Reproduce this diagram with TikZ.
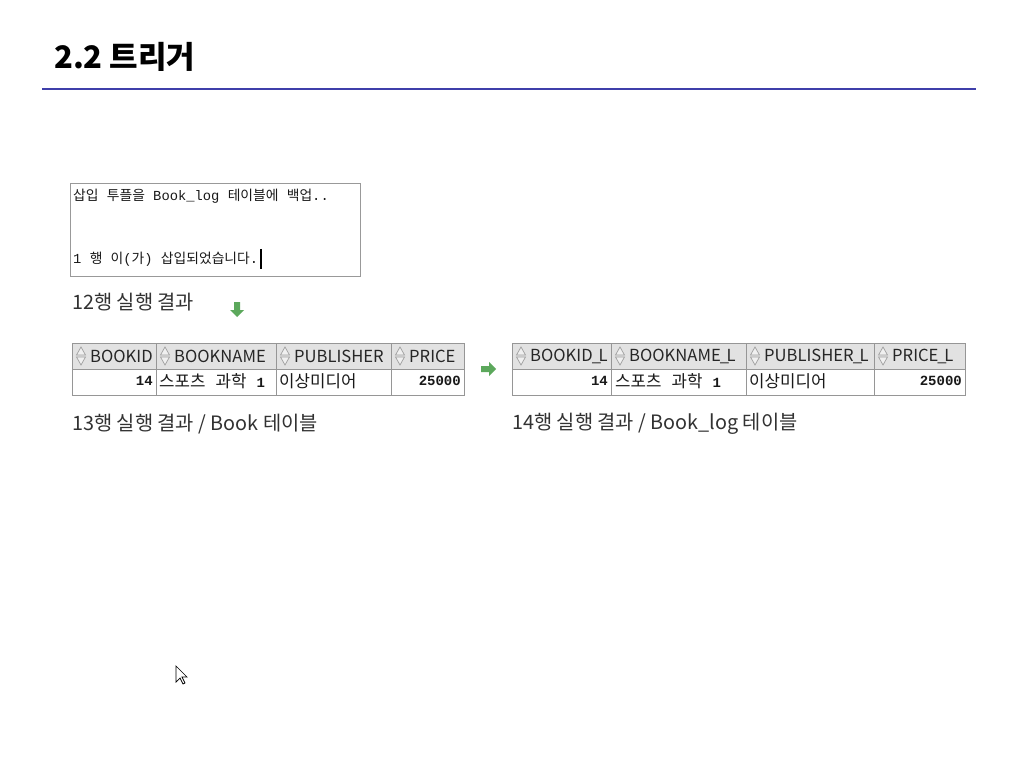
\documentclass[tikz,border=0pt]{standalone}
\usepackage{fontspec}
\setmainfont{Noto Sans CJK KR}
\newfontfamily\monofont{Liberation Mono}
\usetikzlibrary{positioning}
\definecolor{titleblue}{RGB}{63,63,170}
\definecolor{arrowgreen}{RGB}{92,168,92}
\definecolor{headgray}{RGB}{226,226,226}
\definecolor{gridgray}{RGB}{150,150,150}
\definecolor{textgray}{RGB}{50,50,50}
\newcommand{\mn}[1]{{\monofont #1}}
\newcommand{\fsz}[1]{\fontsize{#1}{#1}\selectfont}
\tikzset{
	caption/.style={anchor=west, inner sep=0pt, text=textgray, font=\fsz{19.8}},
	headtext/.style={anchor=west, inner sep=0pt, text=black!85, font=\fsz{16.6}},
	celltext/.style={anchor=west, inner sep=0pt, text=black!90, font=\fsz{16.8}},
	numtext/.style={anchor=east, inner sep=0pt, text=black!90, font=\monofont\bfseries\fsz{14}},
	constext/.style={anchor=west, inner sep=0pt, text=black!90, font=\fsz{13.8}},
	tabline/.style={draw=gridgray, line width=0.8pt},
	sorticon/.pic={
		\filldraw[draw=gray!75, fill=gray!12, line width=0.7pt] (-4.5,-1) -- (4.5,-1) -- (0,-9) -- cycle;
		\filldraw[draw=gray!75, fill=gray!12, line width=0.7pt] (-4.5,1) -- (4.5,1) -- (0,9) -- cycle;
	},
	greenarrow/.pic={
		\fill[arrowgreen] (0,-3) -- (8,-3) -- (8,-7) -- (15,0) -- (8,7) -- (8,3) -- (0,3) -- cycle;
	}
}

\begin{document}
\begin{tikzpicture}[x=1pt,y=-1pt]
	\useasboundingbox[fill=white] (0,0) rectangle (1017,759);
	% title
	\node[anchor=west, inner sep=0pt, font=\bfseries\fsz{31}] (title) at (54,57) {2.2 트리거};
	\draw[titleblue, line width=2pt] (42,89) -- (976,89);
	% console output
	\draw[draw=gray!80, line width=0.9pt] (70,183) rectangle (360,276);
	\node[constext] (cons1) at (73,196) {삽입\mn{ }투플을\mn{ Book\_log }테이블에\mn{ }백업\mn{..}};
	\node[constext] (cons2) at (73,259) {\mn{1 }행\mn{ }이\mn{(}가\mn{) }삽입되었습니다\mn{.}};
	\draw[line width=2pt] ([xshift=3pt]cons2.east) ++(0,-10) -- ++(0,20);
	\node[caption] (cap12) at (72,302) {12행 실행 결과};
	\pic[rotate=-90] at (237,302) {greenarrow};
	% Book table
	\fill[headgray] (72,343) rectangle (464,369);
	\draw[tabline] (72,343) rectangle (464,395);
	\draw[tabline] (72,369) -- (464,369);
	\foreach \x in {156,276,391}
		\draw[tabline] (\x,343) -- (\x,395);
	\foreach \x/\name in {72/BOOKID,156/BOOKNAME,276/PUBLISHER,391/PRICE}
	{
		\pic at (\x+9,356) {sorticon};
		\node[headtext] (h\name) at (\x+18,356) {\name};
	}
	\node[numtext] (bookid) at (153,381) {14};
	\node[celltext] (bookname) at (159,381) {스포츠\mn{ }과학\mn{ }\mn{\bfseries\fsz{14}1}};
	\node[celltext] (bookpub) at (279,381) {이상미디어};
	\node[numtext] (bookprice) at (461,381) {25000};
	\node[caption] (cap13) at (72,424) {13행 실행 결과 / Book 테이블};
	\pic at (481,369) {greenarrow};
	% Book_log table
	\fill[headgray] (512,343) rectangle (965,369);
	\draw[tabline] (512,343) rectangle (965,395);
	\draw[tabline] (512,369) -- (965,369);
	\foreach \x in {611,746,874}
		\draw[tabline] (\x,343) -- (\x,395);
	\foreach \x/\name in {512/BOOKID,611/BOOKNAME,746/PUBLISHER,874/PRICE}
	{
		\pic at (\x+9,356) {sorticon};
		\node[headtext] (l\name) at (\x+18,356) {\name\kern-1pt\_\kern-2.5pt L};
	}
	\node[numtext] (logid) at (608,381) {14};
	\node[celltext] (logname) at (615,381) {스포츠\mn{ }과학\mn{ }\mn{\bfseries\fsz{14}1}};
	\node[celltext] (logpub) at (749,381) {이상미디어};
	\node[numtext] (logprice) at (962,381) {25000};
	\node[caption] (cap14) at (512,424) {14행 실행 결과 / Book\_log 테이블};
	% mouse pointer
	\filldraw[fill=white, draw=black, line width=0.7pt] (176,666) -- (176,682) -- (180,678) -- (183,684) -- (185,683) -- (182,677) -- (187,677) -- cycle;
\end{tikzpicture}
\end{document}
